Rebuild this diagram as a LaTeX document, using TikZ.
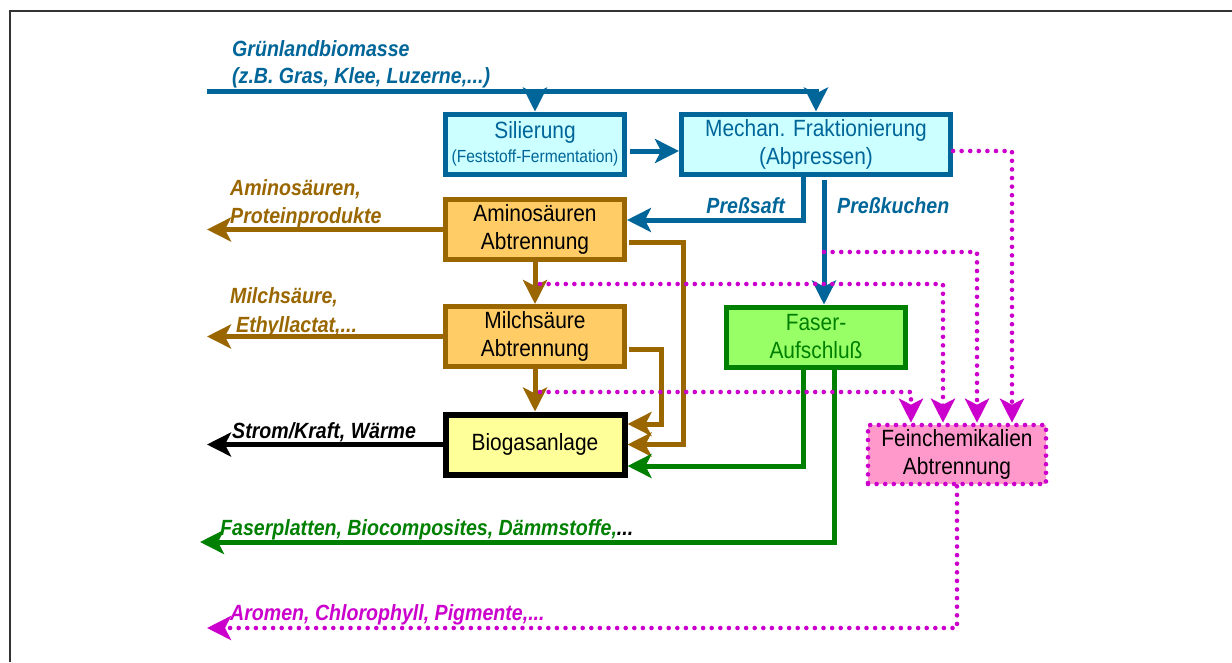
\documentclass[tikz,border=0pt]{standalone}
\usepackage{fontspec}
\setmainfont[FakeStretch=0.89]{Liberation Sans}
\usepackage{xcolor}
\usetikzlibrary{
	arrows.meta,
	positioning
}

\definecolor{flowblue}{HTML}{006699}
\definecolor{silcyan}{HTML}{CCFFFF}
\definecolor{brownc}{HTML}{996600}
\definecolor{orangefill}{HTML}{FFCC66}
\definecolor{yellowfill}{HTML}{FFFF99}
\definecolor{fibergreen}{HTML}{008000}
\definecolor{fiberfill}{HTML}{99FF66}
\definecolor{chemmag}{HTML}{CC00CC}
\definecolor{pinkfill}{HTML}{FF99CC}

\begin{document}
\begin{tikzpicture}[x=1pt, y=-1pt,
		>={Stealth[length=24pt,width=24pt,inset=6pt]},
		box/.style={draw, line width=5pt, minimum width=179pt, minimum height=60pt,
			align=center, font=\fontsize{23.5}{28}\selectfont},
		lbl/.style={inner sep=0pt, anchor=base west,
			font=\fontsize{22}{26}\selectfont\bfseries\itshape},
		flow/.style={->, line width=5pt},
		dotline/.style={line width=4.6pt, dash pattern=on 0pt off 8.6pt,
			line cap=round, draw=chemmag}]
			\useasboundingbox (0,0) rectangle (1232,662);
			\draw[line width=2pt, black!80] (10,662) -- (10,11) -- (1232,11);
			% boxes
			\node[box, draw=flowblue, fill=silcyan, text=flowblue] (sil) at (535,144)
				{Silierung\\[-4pt]{\fontsize{17.5}{20}\selectfont(Feststoff-Fermentation)}};
			\node[box, draw=flowblue, fill=silcyan, text=flowblue, minimum width=269pt] (mech) at (816,144)
				{Mechan. Fraktionierung\\(Abpressen)};
			\node[box, draw=brownc, fill=orangefill] (amino) at (535,229.5) {Aminosäuren\\Abtrennung};
			\node[box, draw=brownc, fill=orangefill] (milch) at (535,336.5) {Milchsäure\\Abtrennung};
			\node[box, draw=black, line width=6pt, fill=yellowfill] (biogas) at (535,444.5) {Biogasanlage};
			\node[box, draw=fibergreen, fill=fiberfill, text=fibergreen] (faser) at (816,337) {Faser-\\Aufschluß};
			\node[box, dotline, fill=pinkfill, minimum width=178pt, minimum height=59pt] (fein) at (957,454.5)
				{Feinchemikalien\\Abtrennung};
			% labels
			\node[lbl, text=flowblue] (lgras) at (232,56.7) {Grünlandbiomasse};
			\node[lbl, text=flowblue] (lgrasb) at (232,83) {(z.B. Gras, Klee, Luzerne,...)};
			\node[lbl, text=brownc] (lamino) at (230,195) {Aminosäuren,};
			\node[lbl, text=brownc] (laminob) at (230,223) {Proteinprodukte};
			\node[lbl, text=brownc] (lmilch) at (230,303) {Milchsäure,};
			\node[lbl, text=brownc] (lmilchb) at (236,332) {Ethyllactat,...};
			\node[lbl] (lstrom) at (232,438) {Strom/Kraft, Wärme};
			\node[lbl, text=fibergreen] (lfaser) at (220,535) {Faserplatten, Biocomposites, Dämmstoffe,{\color{black}...}};
			\node[lbl, text=chemmag] (larom) at (230,620) {Aromen, Chlorophyll, Pigmente,...};
			\node[lbl, anchor=base east, text=flowblue] (lsaft) at (785,213) {Preßsaft};
			\node[lbl, text=flowblue] (lkuchen) at (837,213) {Preßkuchen};
			% main flows
			\coordinate (src) at (207,91);
			\coordinate (fibout) at (200,542);
			\coordinate (aromout) at (207,628);
			\draw[flow, draw=flowblue] (src) -| (mech.north);
			\draw[flow, draw=flowblue] (sil.north |- src) -- (sil.north);
			\draw[flow, draw=flowblue, shorten <=3pt] ([yshift=-7pt]sil.east) -- ([yshift=-7pt]mech.west);
			\draw[flow, draw=flowblue] ([xshift=-13pt]mech.south) |- ([yshift=9.5pt]amino.east);
			\draw[flow, draw=flowblue, shorten <=3pt] ([xshift=8pt]mech.south) -- ([xshift=8pt]faser.north);
			\draw[flow, draw=brownc] (amino.west) -- (amino.west -| src);
			\draw[flow, draw=brownc] (amino.south) -- (milch.north);
			\draw[flow, draw=brownc, shorten <=2pt] ([yshift=-12.5pt]amino.east) -- ++(56,0) |- (biogas.east);
			\draw[flow, draw=brownc] (milch.west) -- (milch.west -| src);
			\draw[flow, draw=brownc] (milch.south) -- (biogas.north);
			\draw[flow, draw=brownc, shorten <=2pt] ([yshift=-13pt]milch.east) -- ++(34,0) |- ([yshift=20.5pt]biogas.east);
			\draw[flow] (biogas.west) -- (biogas.west -| src);
			\draw[flow, draw=fibergreen] ([xshift=-13pt]faser.south) |- ([yshift=-21.5pt]biogas.east);
			\draw[flow, draw=fibergreen] ([xshift=18pt]faser.south) |- (fibout);
			% side streams to Feinchemikalien
			\coordinate (kuchtap) at (824,252);
			\coordinate (aminotap) at (540,284);
			\coordinate (milchtap) at (540,392);
			\draw[dotline, ->] ([yshift=-7pt]mech.east) -| ([xshift=55pt]fein.north);
			\draw[dotline, ->] (kuchtap) -| ([xshift=20pt]fein.north);
			\draw[dotline, ->] (aminotap) -| ([xshift=-14pt]fein.north);
			\draw[dotline, ->] (milchtap) -| ([xshift=-46pt]fein.north);
			\draw[dotline, ->] (fein.south) |- (aromout);
		\end{tikzpicture}
\end{document}
